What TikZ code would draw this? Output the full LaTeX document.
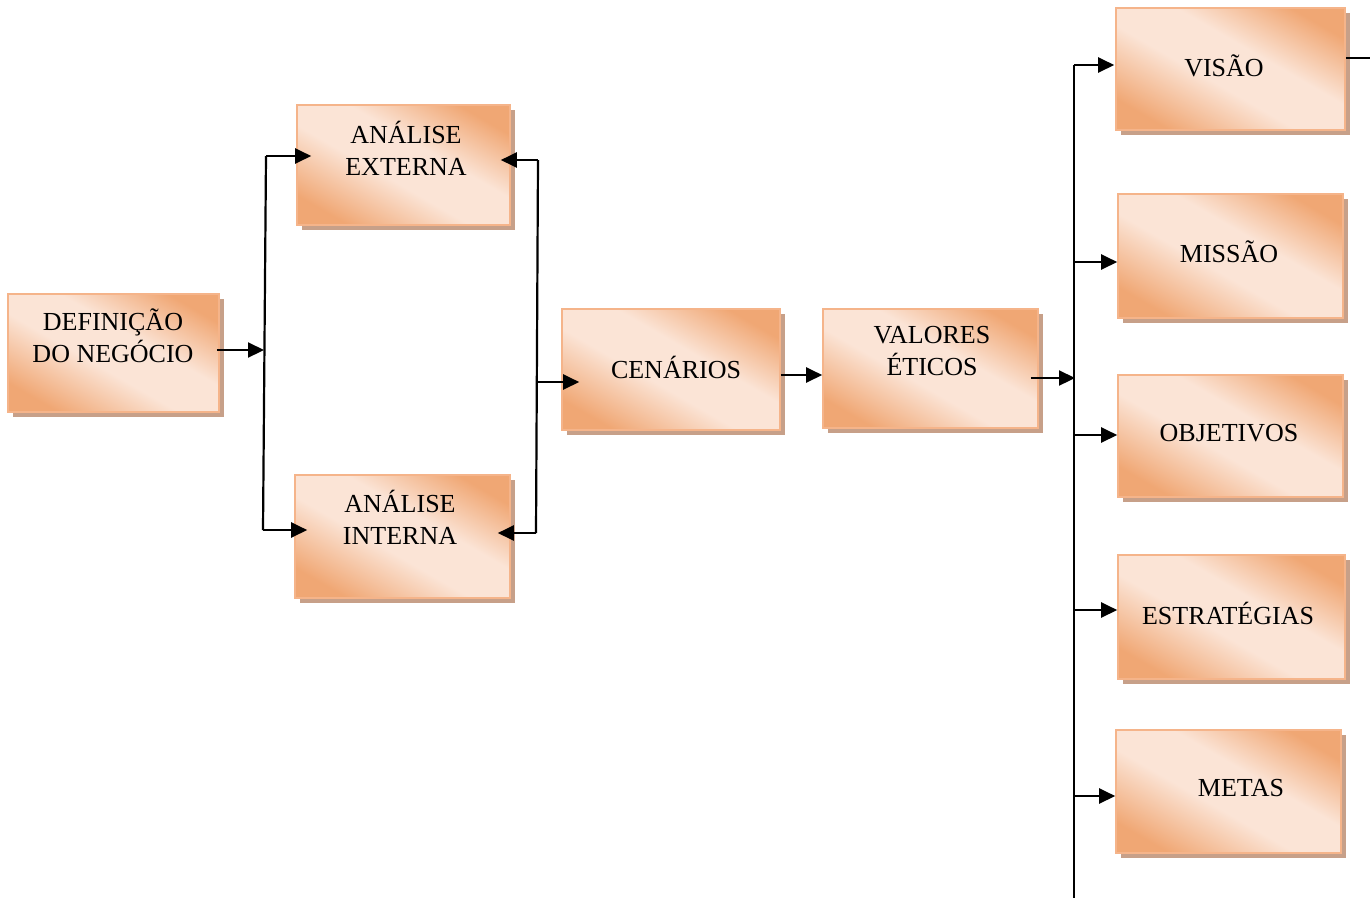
\documentclass[tikz,border=0pt]{standalone}
\usepackage{fontspec}
\setmainfont{Liberation Serif}
\usetikzlibrary{arrows.meta,shadows}
\definecolor{pdark}{HTML}{F0A774}
\definecolor{plight}{HTML}{FBE4D6}
\definecolor{pborder}{HTML}{F5B48A}
\definecolor{pshadow}{HTML}{C7A089}
\pgfdeclarehorizontalshading{peach}{100bp}{color(0bp)=(pdark); color(24bp)=(pdark); color(44bp)=(plight); color(58bp)=(plight); color(76bp)=(pdark); color(100bp)=(pdark)}
\tikzset{
  pbox/.style={rectangle, draw=pborder, line width=1.6pt, shading=peach, shading angle=60,
    inner sep=0pt, general shadow={shadow xshift=5pt, shadow yshift=-5pt, fill=pshadow}},
  lbl/.style={align=center, inner sep=0pt, font=\fontsize{26}{32}\selectfont, text=black},
  arr/.style={line width=2.2pt, -{Triangle[length=16pt,width=15pt]}},
  ln/.style={line width=2.2pt}
}
\begin{document}
\begin{tikzpicture}[x=1pt,y=-1pt]
\useasboundingbox (0,0) rectangle (1370,898);
% boxes
\node[pbox, minimum width=211pt, minimum height=118pt] (def) at (113.5,353) {};
\node[pbox, minimum width=213pt, minimum height=120pt] (aext) at (403.5,165) {};
\node[pbox, minimum width=215pt, minimum height=123pt] (aint) at (402.5,536.5) {};
\node[pbox, minimum width=218pt, minimum height=121pt] (cen) at (671,369.5) {};
\node[pbox, minimum width=215pt, minimum height=119pt] (val) at (930.5,368.5) {};
\node[pbox, minimum width=229pt, minimum height=122pt] (vis) at (1230.5,69) {};
\node[pbox, minimum width=225pt, minimum height=124pt] (mis) at (1230.5,256) {};
\node[pbox, minimum width=225pt, minimum height=122pt] (obj) at (1230.5,436) {};
\node[pbox, minimum width=227pt, minimum height=124pt] (est) at (1231.5,617) {};
\node[pbox, minimum width=225pt, minimum height=123pt] (met) at (1228.5,791.5) {};
% labels
\node[lbl] (deft) at (113,336) {DEFINIÇÃO\\DO NEGÓCIO};
\node[lbl] (aextt) at (406,148) {ANÁLISE\\EXTERNA};
\node[lbl] (aintt) at (400,517) {ANÁLISE\\INTERNA};
\node[lbl] (cent) at (676,367) {CENÁRIOS};
\node[lbl] (valt) at (932,351) {VALORES\\ÉTICOS};
\node[lbl] (vist) at (1224,66) {VISÃO};
\node[lbl] (mist) at (1229,252) {MISSÃO};
\node[lbl] (objt) at (1229,433) {OBJETIVOS};
\node[lbl] (estt) at (1228,613) {ESTRATÉGIAS};
\node[lbl] (mett) at (1241,788) {METAS};
% trunk coordinates
\coordinate (j1) at (264,350);
\coordinate (j1t) at (266,156);
\coordinate (j1b) at (263,530);
\coordinate (j2t) at (538,160);
\coordinate (j2b) at (536,533);
\coordinate (j2m) at (537,382);
\coordinate (j3) at (1075,378);
\coordinate (j3t) at (1074,65);
\coordinate (j3b) at (1074,898);
\coordinate (visout) at (1370,58);
% connectors
\draw[ln] (j1t) -- (j1b);
\draw[arr] ([xshift=-3pt]def.east |- j1) -- (j1);
\draw[arr] (j1t) -- ([xshift=15pt]aext.west |- j1t);
\draw[arr] (j1b) -- ([xshift=13pt]aint.west |- j1b);
\draw[ln] (j2t) -- (j2b);
\draw[arr] (j2t) -- ([xshift=-10pt]aext.east |- j2t);
\draw[arr] (j2b) -- ([xshift=-13pt]aint.east |- j2b);
\draw[arr] (j2m) -- ([xshift=18pt]cen.west |- j2m);
\draw[arr] (cen.east |- 0,375) -- (val.west |- 0,375);
\draw[arr] ([xshift=-8pt]val.east |- j3) -- (j3);
\draw[ln] (j3t) -- (j3b);
\draw[arr] (j3t) -- ([xshift=-1pt]vis.west |- j3t);
\draw[arr] (j3t |- 0,262) -- (mis.west |- 0,262);
\draw[arr] (j3t |- 0,435) -- (obj.west |- 0,435);
\draw[arr] (j3t |- 0,610) -- (est.west |- 0,610);
\draw[arr] (j3t |- 0,796) -- (met.west |- 0,796);
\draw[ln] (vis.east |- visout) -- (visout);
\end{tikzpicture}
\end{document}
